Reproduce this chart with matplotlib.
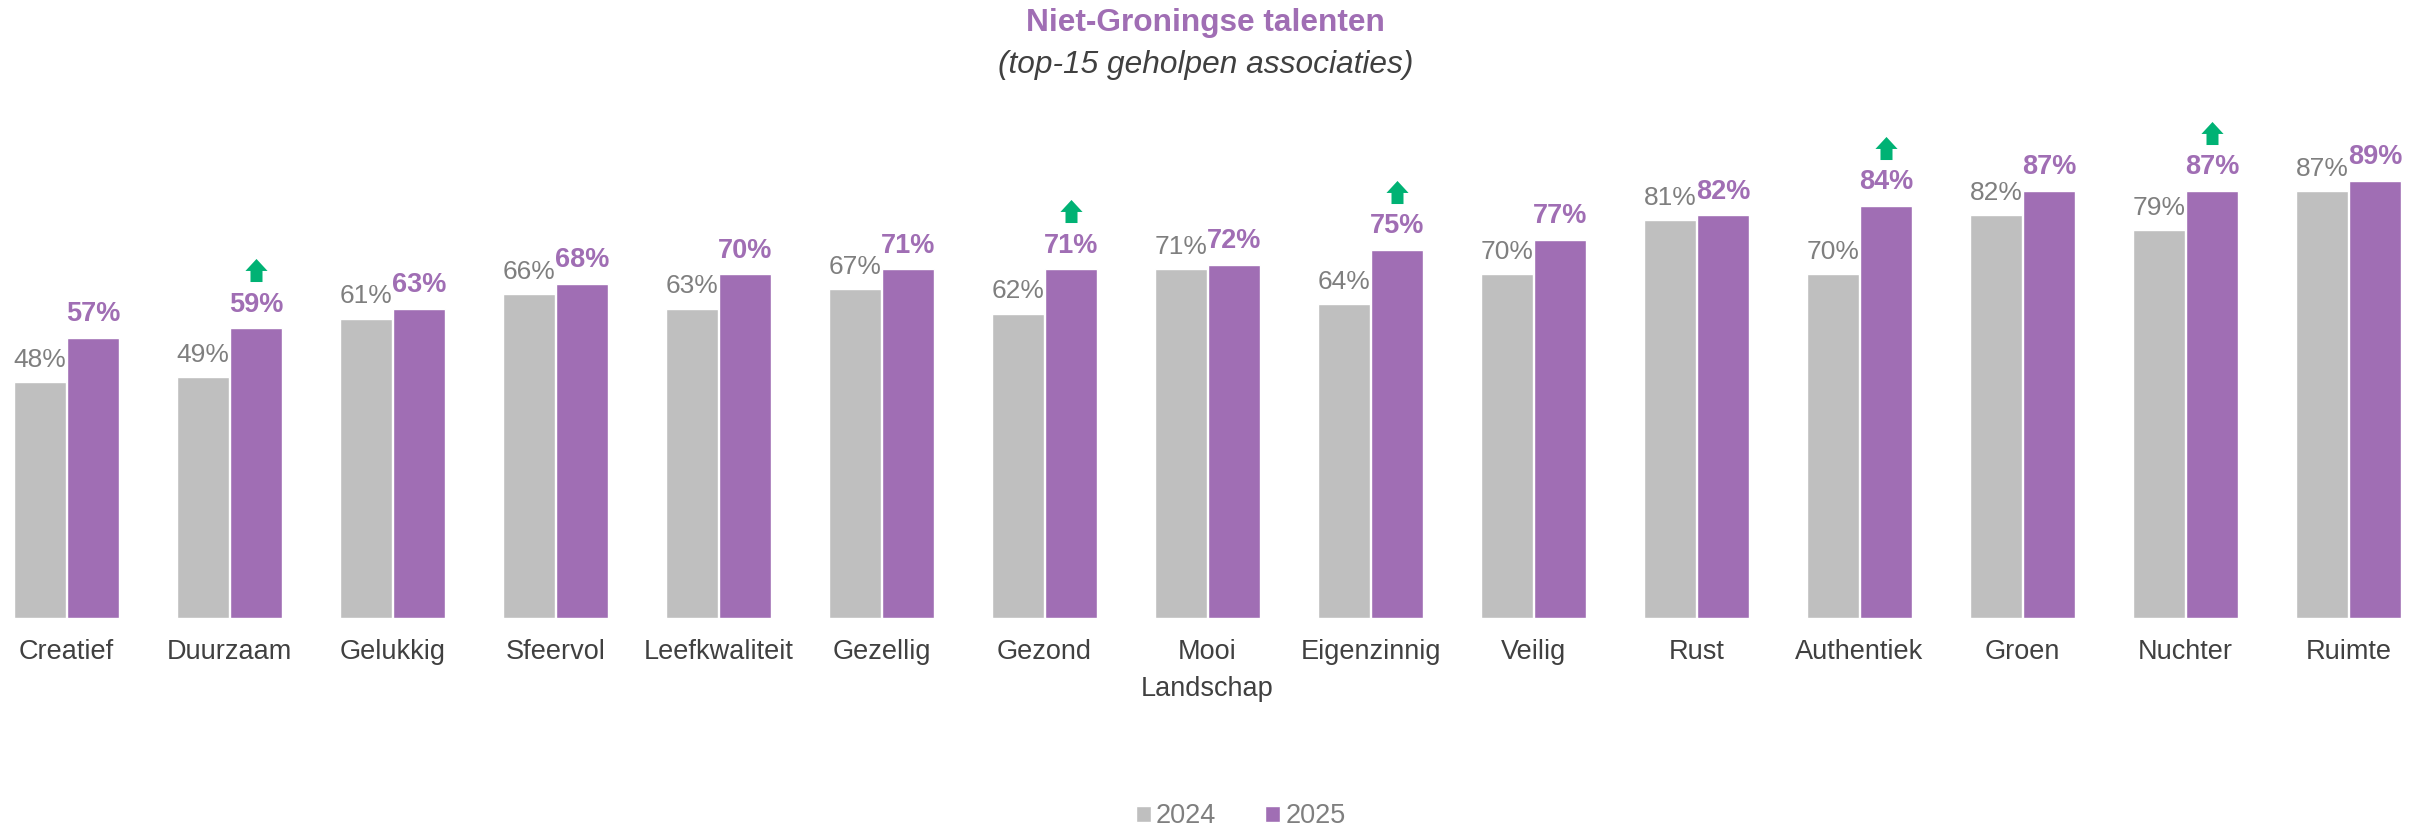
import matplotlib.pyplot as plt
import numpy as np
from matplotlib.path import Path
from matplotlib.transforms import offset_copy

plt.rcParams['font.family'] = ['Liberation Sans', 'DejaVu Sans']

# Data
categories = ["Creatief", "Duurzaam", "Gelukkig", "Sfeervol", "Leefkwaliteit",
              "Gezellig", "Gezond", "Mooi\nLandschap", "Eigenzinnig", "Veilig",
              "Rust", "Authentiek", "Groen", "Nuchter", "Ruimte"]
values_2024 = [48, 49, 61, 66, 63, 67, 62, 71, 64, 70, 81, 70, 82, 79, 87]
values_2025 = [57, 59, 63, 68, 70, 71, 71, 72, 75, 77, 82, 84, 87, 87, 89]
# significant increase compared to last year
increase = [False, True, False, False, False, False, True, False, True,
            False, False, True, False, True, False]

gray = "#BFBFBF"
purple = "#A06EB4"
green = "#00B274"
label_gray = "#7F7F7F"
text_dark = "#404040"

fig = plt.figure(figsize=(24.23, 8.27), dpi=100)
ax = fig.add_axes([0, 0.2527, 1, 0.5937])

x = np.arange(len(categories))
w = 0.315
off = 0.1625

bars1 = ax.bar(x - off, values_2024, w, color=gray, edgecolor="white", linewidth=1, label="2024")
bars2 = ax.bar(x + off, values_2025, w, color=purple, edgecolor="white", linewidth=1, label="2025")

ax.set_xlim(-0.408, 14.457)
ax.set_ylim(0, 100)
ax.axis("off")

# value labels
for xi, v in zip(x, values_2024):
    ax.annotate(f"{v}%", (xi - off, v), xytext=(0, 11), textcoords="offset points",
                ha="center", va="baseline", fontsize=19, color=label_gray)
for xi, v in zip(x, values_2025):
    ax.annotate(f"{v}%", (xi + off, v), xytext=(0, 12), textcoords="offset points",
                ha="center", va="baseline", fontsize=19.5, color=purple, fontweight="bold")

# category labels
for xi, c in zip(x, categories):
    ax.text(xi, -4.2, c, ha="center", va="top", fontsize=19.5, color=text_dark,
            linespacing=1.55)

# green up arrows
arrow_verts = [(-0.52, -1.0), (0.52, -1.0), (0.52, -0.04), (0.96, -0.04),
               (0.0, 1.0), (-0.96, -0.04), (-0.52, -0.04), (-0.52, -1.0)]
arrow_codes = [Path.MOVETO] + [Path.LINETO] * 6 + [Path.CLOSEPOLY]
arrow = Path(arrow_verts, arrow_codes)
arrow_tr = offset_copy(ax.transData, fig=fig, y=58, units="dots")
for xi, v, up in zip(x, values_2025, increase):
    if up:
        ax.plot(xi + off, v, marker=arrow, markersize=16.6, color=green,
                markeredgewidth=0, transform=arrow_tr, clip_on=False)

# titles
fig.text(0.4975, 0.99, "Niet-Groningse talenten", ha="center", va="top",
         fontsize=22.8, fontweight="bold", color=purple)
fig.text(0.4975, 0.94, "(top-15 geholpen associaties)", ha="center", va="top",
         fontsize=22.8, fontstyle="italic", color=text_dark)

# legend
fig.legend(handles=[bars1, bars2], labels=["2024", "2025"], loc="center",
           bbox_to_anchor=(0.512, 0.013), ncol=2, frameon=False, fontsize=19.5,
           labelcolor=label_gray, handlelength=0.55, handleheight=0.55,
           handletextpad=0.2, columnspacing=1.8)

plt.savefig("out.png", dpi=100)
